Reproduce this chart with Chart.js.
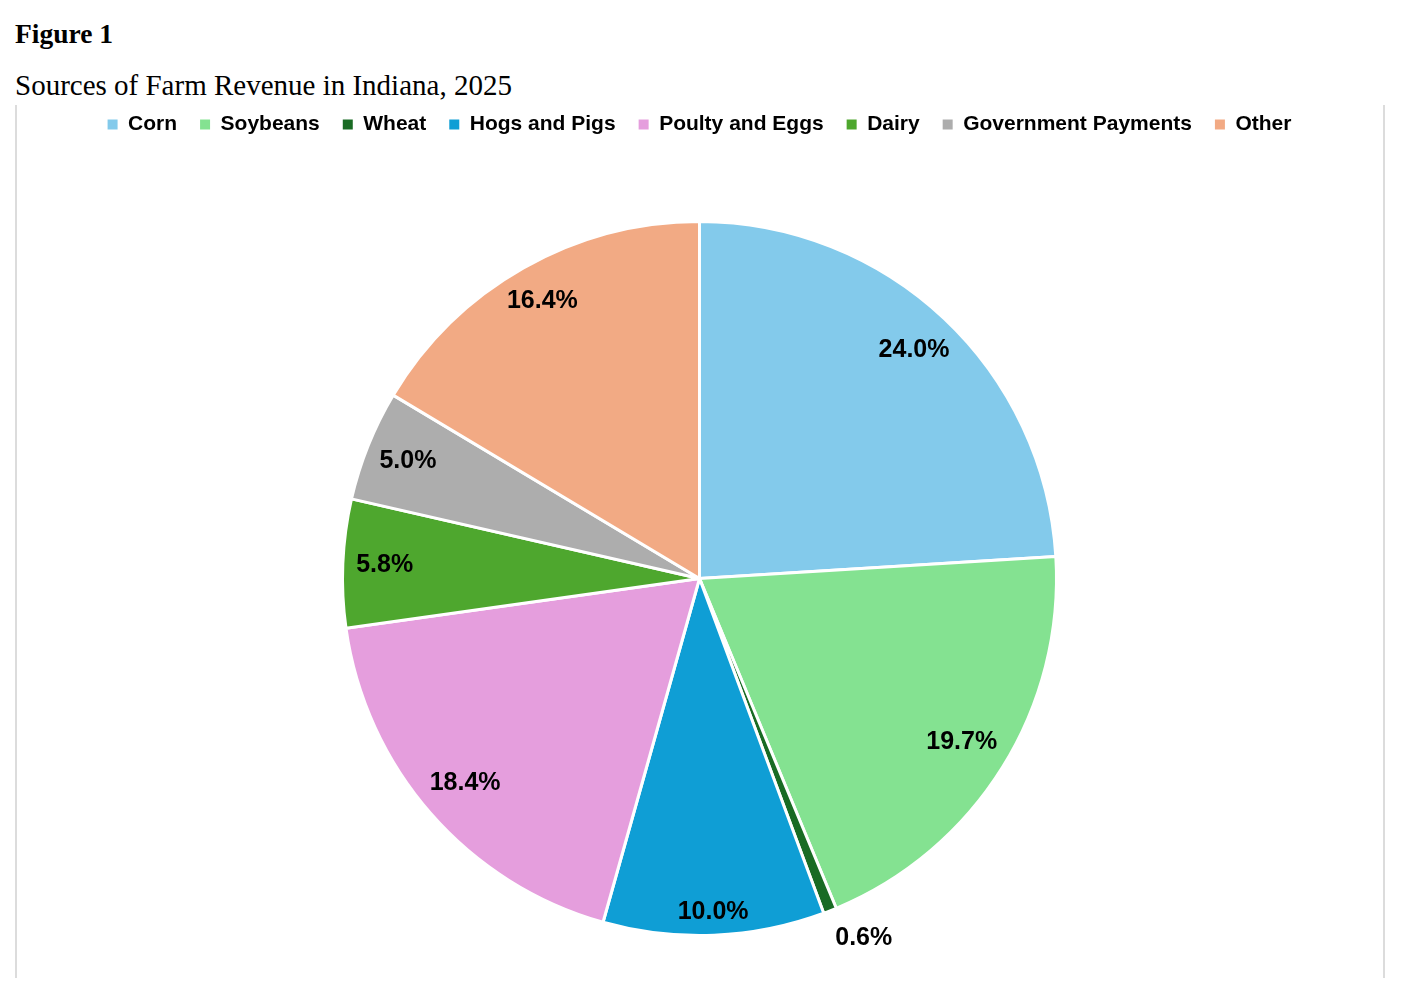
<!DOCTYPE html>
<html>
<head>
<meta charset="utf-8">
<title>Sources of Farm Revenue in Indiana, 2025</title>
<script src="https://cdn.jsdelivr.net/npm/chart.js@4.4.1/dist/chart.umd.min.js"></script>
<style>
  html, body { margin: 0; padding: 0; background: #fff; overflow: hidden; }
  .fig-label { position: absolute; left: 15px; top: 18px; line-height: 1; font: bold 27.5px "Liberation Serif", serif; color: #000; }
  .fig-title { position: absolute; left: 15px; top: 69px; line-height: 1; font: 29px "Liberation Serif", serif; color: #000; }
  .frame {
    position: absolute; left: 15px; top: 105px; width: 1366px; height: 873px;
    border-left: 2px solid #dcdcdc; border-right: 2px solid #dcdcdc;
  }
  .chart-wrap { position: absolute; left: 16px; top: 90.5px; width: 1367px; height: 887.5px; }
</style>
</head>
<body>
<div class="fig-label">Figure 1</div>
<div class="fig-title">Sources of Farm Revenue in Indiana, 2025</div>
<div class="frame"></div>
<div class="chart-wrap"><canvas id="farm-chart"></canvas></div>

<script>
// --- Data ---
const categories = ['Corn', 'Soybeans', 'Wheat', 'Hogs and Pigs', 'Poulty and Eggs', 'Dairy', 'Government Payments', 'Other'];
const shares = [24.0, 19.7, 0.6, 10.0, 18.4, 5.8, 5.0, 16.4];
const sliceColors = ['#83CAEB', '#84E291', '#196B24', '#0F9ED5', '#E59EDD', '#4EA72E', '#ADADAD', '#F2AA84'];

// extra room between legend and pie (legend has no spacing option of its own)
const legendSpacer = {
    id: 'legendSpacer',
    beforeInit(chart) {
        const origFit = chart.legend.fit;
        chart.legend.fit = function() {
            origFit.call(this);
            this.height += 75;
        };
    }
};

// percentage labels: inside the slice ("best fit"-ish), tiny slices outside the rim
const sliceLabels = {
    id: 'sliceLabels',
    afterDatasetsDraw(chart) {
        const ctx = chart.ctx;
        const meta = chart.getDatasetMeta(0);
        const rimGap = 13;
        const halfH = 9;
        ctx.save();
        ctx.font = 'bold 25px "Liberation Sans", Arial, sans-serif';
        ctx.fillStyle = '#000';
        meta.data.forEach((arc, i) => {
            const p = arc.getProps(['x', 'y', 'startAngle', 'endAngle', 'outerRadius'], true);
            const mid = (p.startAngle + p.endAngle) / 2;
            const cos = Math.cos(mid), sin = Math.sin(mid);
            const text = shares[i].toFixed(1) + '%';
            if (shares[i] < 2) {
                // nearest corner of the label just outside the rim
                const r = p.outerRadius * 1.04;
                ctx.textAlign = cos >= 0 ? 'left' : 'right';
                ctx.textBaseline = sin >= 0 ? 'top' : 'bottom';
                ctx.fillText(text, p.x + cos * r, p.y + sin * r + (sin >= 0 ? 2 : -2));
            } else {
                // keep the label box a fixed gap inside the rim
                const halfW = ctx.measureText(text).width / 2;
                const extent = Math.abs(cos) * halfW + Math.abs(sin) * halfH;
                const r = p.outerRadius - rimGap - extent;
                ctx.textAlign = 'center';
                ctx.textBaseline = 'middle';
                ctx.fillText(text, p.x + cos * r, p.y + sin * r);
            }
        });
        ctx.restore();
    }
};

const ctx = document.getElementById('farm-chart').getContext('2d');
new Chart(ctx, {
    type: 'pie',
    data: {
        labels: categories,
        datasets: [{
            data: shares,
            backgroundColor: sliceColors,
            borderColor: '#ffffff',
            borderWidth: 3,
            hoverOffset: 0
        }]
    },
    options: {
        responsive: true,
        maintainAspectRatio: false,
        animation: false,
        layout: {
            padding: { top: 0, bottom: 41.5 }
        },
        plugins: {
            legend: {
                position: 'top',
                labels: {
                    boxWidth: 10,
                    boxHeight: 10,
                    padding: 23,
                    color: '#000',
                    font: { family: '"Liberation Sans", Arial, sans-serif', size: 21, weight: 'bold' },
                    generateLabels(chart) {
                        // no white outline on the legend squares
                        const items = Chart.overrides.pie.plugins.legend.labels.generateLabels(chart);
                        items.forEach(it => { it.lineWidth = 0; });
                        return items;
                    }
                }
            },
            tooltip: { enabled: false }
        }
    },
    plugins: [legendSpacer, sliceLabels]
});
</script>
</body>
</html>
